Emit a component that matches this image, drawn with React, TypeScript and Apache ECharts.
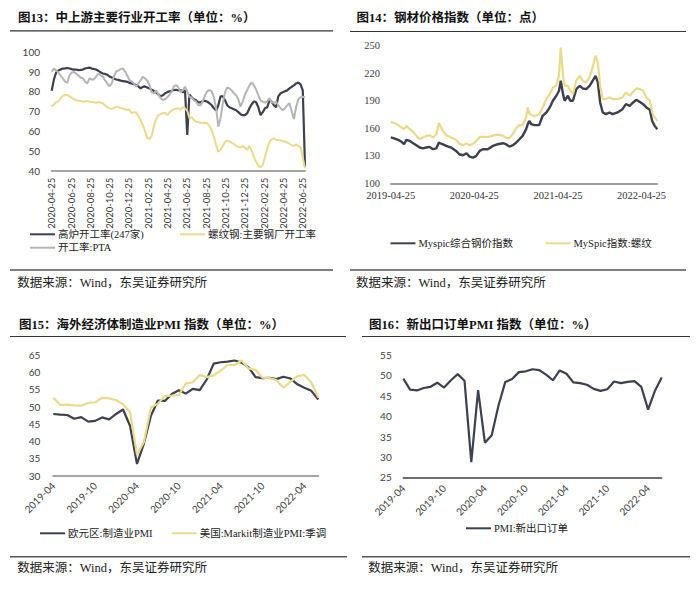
import React, { useEffect, useRef } from 'react';
import * as echarts from 'echarts';

// ---------- 图13 (weekly, from 2020-04-25) ----------
const p13Start = '2020-04-25';
const p13Blast = [
  80.3, 86, 89.5, 90.5, 91, 91.5, 91.6, 91.8, 91.5, 91.2,
  91, 91, 90.7, 90.8, 91, 91.5, 91.8, 92, 91.5, 91.3,
  91, 90.3, 89.6, 89, 88.8, 88.4, 87.5, 87, 86.5, 86,
  85.8, 85.4, 85.2, 85, 84.8, 84.3, 84, 83.6, 83.2, 82.5,
  81.5, 82.3, 82.5, 82, 81.5, 80.8, 80.3, 79.5, 78.5, 77.5,
  78, 79, 79.5, 80, 80.3, 80.7, 80.8, 80.5, 80.7, 79.5,
  80.5, 58, 78.5, 77, 76, 75.5, 74.5, 74.5, 75, 75.3,
  74.8, 74, 73, 71.5, 70.3, 73, 77.5, 77.5, 75.5, 73,
  72, 71.5, 71, 70.5, 69.5, 68.5, 68, 68, 69, 71.5,
  73.5, 75, 74.5, 72, 68, 69.5, 71.5, 72, 75.5, 74.8,
  73, 72, 77.5, 79, 79.5, 80, 80.5, 81.5, 82.3, 83,
  84, 84.4, 83.5, 80.5, 42,
];
const p13Rebar = [
  72.3, 73.5, 74.5, 75, 76.5, 77.8, 78.2, 78.2, 77.5, 76.8,
  76, 75.6, 75.3, 75.1, 74.8, 75, 75.1, 74.8, 74.6, 74.5,
  74.3, 74.6, 74.3, 74, 73, 72, 71.4, 71.2, 71.5, 72.3,
  72, 71.6, 71.4, 70.8, 70.7, 70.9, 69, 69.5, 69.5, 67.5,
  65.5, 63, 60, 56.5, 56, 57.5, 62.5, 66, 68, 68.5,
  69, 69.2, 68, 69.3, 70.3, 71, 71.4, 71.4, 70.8, 72,
  71.5, 70.2, 66.5, 67, 65.5, 64.7, 64.5, 64.2, 64, 64.2,
  63.9, 62.5, 60.5, 57, 53, 49.5, 50.5, 52.5, 54.5, 55.3,
  54.8, 54, 53.5, 52.5, 52, 51.8, 52.4, 51.5, 50.5, 52.5,
  50, 47, 44.5, 42.5, 41.7, 42.8, 47, 51, 54.5, 55.8,
  56.3, 55.5, 55.5, 55.2, 55, 54.7, 54.2, 53.6, 52.9, 52.5,
  53.3, 52.3, 52, 46.5, 41.2,
];
const p13PTA = [
  90, 91.5, 90.5, 89.5, 88, 86.5, 85, 84.2, 88, 89.5,
  89.8, 89, 88, 87, 86.6, 85, 84, 86.5, 86, 86,
  87.4, 89, 88, 87.5, 85.5, 84, 82.5, 84, 87.5, 90,
  90.5, 91.2, 91.6, 90, 88, 85.7, 85, 84, 82.3, 84,
  85.5, 87.4, 86.5, 85.5, 83.2, 79.5, 79, 80.5, 78.5, 76.5,
  75.6, 76, 77, 78.2, 80, 82.5, 83.2, 82, 79.5, 80.5,
  82.3, 80, 77.3, 76.8, 75.5, 74.8, 73, 73, 75, 78,
  80, 80.7, 80, 77, 71.5, 62.2, 66.5, 74, 79.5, 82,
  81.5, 80.5, 79, 78, 76, 72.3, 75, 78.5, 80.7, 83,
  84.5, 83, 81, 78, 75.5, 74.8, 74.3, 75, 76.5, 74.5,
  74.3, 74.8, 73, 71.5, 70.5, 71.5, 73, 74, 70, 66,
  72, 76, 77, 77.3, 77,
];

// ---------- 图14 ----------
const p14Start = '2019-04-25';
const p14Dates = [
  '2019-04-25', '2019-05-12', '2019-05-27', '2019-06-11', '2019-06-22', '2019-07-02', '2019-07-17', '2019-08-01', '2019-08-15', '2019-08-30',
  '2019-09-13', '2019-09-28', '2019-10-12', '2019-10-27', '2019-11-11', '2019-11-22', '2019-12-07', '2019-12-24', '2020-01-15', '2020-02-06',
  '2020-02-20', '2020-03-06', '2020-03-21', '2020-04-04', '2020-04-19', '2020-05-03', '2020-05-18', '2020-06-01', '2020-06-23', '2020-07-15',
  '2020-08-06', '2020-08-28', '2020-09-11', '2020-09-26', '2020-10-11', '2020-10-25', '2020-11-09', '2020-11-23', '2020-12-08', '2020-12-15',
  '2020-12-22', '2020-12-30', '2021-01-13', '2021-02-04', '2021-02-19', '2021-03-05', '2021-03-20', '2021-04-03', '2021-04-18', '2021-04-30',
  '2021-05-07', '2021-05-17', '2021-05-24', '2021-06-08', '2021-06-18', '2021-06-30', '2021-07-14', '2021-07-29', '2021-08-12', '2021-08-27',
  '2021-09-11', '2021-09-25', '2021-10-07', '2021-10-17', '2021-10-27', '2021-11-08', '2021-11-22', '2021-12-07', '2021-12-21', '2022-01-12',
  '2022-02-03', '2022-02-18', '2022-03-04', '2022-03-19', '2022-04-02', '2022-04-17', '2022-05-02', '2022-05-16', '2022-05-31', '2022-06-11',
  '2022-06-22', '2022-07-03',
];
const p14Composite = [
  150, 148.8, 147.3, 145.2, 142.6, 147.3, 146.2, 143.7, 141.5, 139,
  138, 139, 139.7, 137.2, 138, 144.4, 142.6, 140.8, 139, 135.3,
  131.7, 130.6, 132.8, 129.1, 128, 129.9, 135.3, 137.2, 137.2, 140.8,
  142.6, 143.7, 142.6, 140.1, 141.5, 144.4, 148, 151.7, 159, 164.5,
  168, 164.5, 163.4, 163.4, 173.6, 177.2, 182.7, 190, 195.4, 200.9,
  211.8, 197.2, 190, 195.4, 190, 190, 202.7, 206.3, 203.4, 202.7,
  206.3, 211.8, 217.2, 210, 188.1, 177.2, 175.4, 177.2, 175.4, 177.2,
  180.8, 186.3, 184.5, 188.1, 191, 188.8, 186.3, 182.7, 180.1, 168,
  162.6, 159,
];
const p14Rebar = [
  167, 165.5, 163.4, 160.8, 159, 162.6, 159, 156.1, 151.7, 148,
  149.9, 151.7, 152.4, 149.9, 153.5, 165.5, 158, 152.5, 150, 147.5,
  143, 141.5, 143.5, 141.5, 143, 146, 150.5, 150.8, 150.5, 152,
  153, 152, 149.5, 149, 154, 160, 163.5, 163.5, 172, 182.7,
  176, 174.5, 173, 175.4, 182.7, 191.8, 197.2, 204.5, 206.3, 218,
  248, 217.2, 206.3, 206.3, 200.9, 197.2, 211.8, 217.2, 211.8, 210,
  215.4, 226.3, 239.1, 231.8, 206.3, 191.8, 191.8, 193.6, 191.8, 191.8,
  193.6, 199.1, 195.4, 199.8, 203.4, 202.7, 200.9, 193.6, 190, 177.2,
  171.7, 168,
];

// ---------- 图15 / 图16 (monthly 2019-04 .. 2022-06) ----------
const pmiMonths = [
  '2019-04', '2019-05', '2019-06', '2019-07', '2019-08', '2019-09', '2019-10', '2019-11', '2019-12',
  '2020-01', '2020-02', '2020-03', '2020-04', '2020-05', '2020-06', '2020-07', '2020-08', '2020-09', '2020-10', '2020-11', '2020-12',
  '2021-01', '2021-02', '2021-03', '2021-04', '2021-05', '2021-06', '2021-07', '2021-08', '2021-09', '2021-10', '2021-11', '2021-12',
  '2022-01', '2022-02', '2022-03', '2022-04', '2022-05', '2022-06',
];
const euroPMI = [
  47.9, 47.7, 47.6, 46.5, 47.0, 45.7, 45.9, 46.9, 46.3,
  47.9, 49.2, 44.5, 33.4, 39.4, 47.4, 51.8, 51.7, 53.7, 54.8, 53.8, 55.2,
  54.8, 57.9, 62.5, 62.9, 63.1, 63.4, 62.8, 61.4, 58.6, 58.3, 58.4, 58.0,
  58.7, 58.2, 56.5, 55.5, 54.6, 52.1,
];
const usPMI = [
  52.6, 50.5, 50.6, 50.4, 50.3, 51.1, 51.3, 52.6, 52.4,
  51.9, 50.7, 48.5, 36.1, 39.8, 49.8, 50.9, 53.1, 53.2, 53.4, 56.7, 57.1,
  59.2, 58.6, 59.1, 60.5, 62.1, 62.1, 63.4, 61.1, 60.7, 58.4, 58.3, 57.7,
  55.5, 57.3, 58.8, 59.2, 57.0, 52.7,
];
const newExportPMI = [
  49.2, 46.5, 46.3, 46.9, 47.2, 48.2, 47.0, 48.8, 50.3,
  48.7, 28.7, 46.4, 33.5, 35.3, 42.6, 48.4, 49.1, 50.8, 51.0, 51.5, 51.3,
  50.2, 48.8, 51.2, 50.4, 48.3, 48.1, 47.7, 46.7, 46.2, 46.6, 48.5, 48.1,
  48.4, 48.6, 47.2, 41.6, 46.2, 49.5,
];

const titles = [
  '图13：中上游主要行业开工率（单位：%）',
  '图14：钢材价格指数（单位：点）',
  '图15：海外经济体制造业PMI 指数（单位：%）',
  '图16：新出口订单PMI 指数（单位：%）',
];
const sourceText = '数据来源：Wind，东吴证券研究所';

const DARK = '#3c4050';
const YELLOW = '#ecd98a';
const GRAY = '#b5b5b5';
const SANS = 'Lato, "Noto Sans CJK SC", sans-serif';
const SERIF = '"Liberation Serif", "Noto Sans CJK SC", serif';
const MONTH_DAYS = 30.4375;

function monthsSince(start: string, d: string) {
  const [y0, m0, d0] = start.split('-').map(Number);
  const [y, m, dd] = d.split('-').map(Number);
  return (y - y0) * 12 + (m - m0) + (dd - d0) / MONTH_DAYS;
}

export default function App() {
  const ref = useRef<HTMLDivElement>(null);
  useEffect(() => {
    if (!ref.current) return;
    const chart = echarts.init(ref.current, undefined, { renderer: 'svg' });

    const p13Data = (arr: number[]) => arr.map((v, i) => [(i * 7) / MONTH_DAYS, v]);
    const p13Max = ((p13Blast.length - 1) * 7) / MONTH_DAYS;
    const p14X = p14Dates.map((d) => monthsSince(p14Start, d));
    const p14Max = p14X[p14X.length - 1];

    const [sy, sm] = p13Start.split('-').map(Number);
    const fmt13 = (v: number) => {
      if (Math.abs(v - Math.round(v)) > 1e-6 || Math.round(v) % 2 !== 0) return '';
      const d = new Date(Date.UTC(sy, sm - 1 + Math.round(v), 25));
      return `${d.getUTCFullYear()}-${String(d.getUTCMonth() + 1).padStart(2, '0')}-25`;
    };
    const fmt14 = (v: number) => {
      if (Math.abs(v - Math.round(v)) > 1e-6 || Math.round(v) % 12 !== 0) return '';
      return `${2019 + Math.round(v) / 12}-04-25`;
    };

    const noLine = { show: false };
    const baseY = (gridIndex: number, min: number, max: number, interval: number, margin: number, family: string, size: number) => ({
      type: 'value', gridIndex, min, max, interval,
      axisLine: noLine, axisTick: noLine, splitLine: noLine,
      axisLabel: { margin, fontFamily: family, fontSize: size, color: '#404040' },
    });

    const legendBase = {
      padding: 0, itemWidth: 25, itemHeight: 2, icon: 'rect', selectedMode: false,
      textStyle: { fontFamily: SERIF, fontSize: 10.5, lineHeight: 14, color: '#222', padding: [0, 0, 0, -2] },
    };
    const mkLegend = (name: string, left: number, cy: number) => ({ ...legendBase, data: [name], left, top: cy - 7 });

    const lineS = (name: string, xi: number, data: any, color: string, width = 2) => ({
      name, type: 'line', xAxisIndex: xi, yAxisIndex: xi, data,
      showSymbol: false, symbol: 'none', lineStyle: { color, width }, itemStyle: { color },
    });

    const titleEl = (text: string, x: number, y: number) => ({
      type: 'text', x, y,
      style: { text, font: `bold 12.5px ${SERIF}`, fill: '#111', verticalAlign: 'middle', textVerticalAlign: 'middle' },
    });
    const srcEl = (x: number, y: number) => ({
      type: 'text', x, y,
      style: { text: sourceText, font: `12.5px ${SERIF}`, fill: '#222', verticalAlign: 'middle', textVerticalAlign: 'middle' },
    });
    const rule = (x1: number, x2: number, y: number, color: string, w: number) => ({
      type: 'line', shape: { x1, y1: y, x2, y2: y }, style: { stroke: color, lineWidth: w },
    });

    chart.setOption({
      animation: false,
      backgroundColor: '#ffffff',
      grid: [
        { left: 51.7, top: 51.7, width: 253.3, height: 119 },
        { left: 390.8, top: 45.7, width: 266.5, height: 137.6 },
        { left: 53.3, top: 355, width: 265, height: 120.7 },
        { left: 403.3, top: 355, width: 258.4, height: 122.3 },
      ],
      xAxis: [
        {
          type: 'value', gridIndex: 0, min: 0, max: p13Max, interval: 2,
          axisLine: { show: true, lineStyle: { color: '#a6a6a6', width: 2 } },
          axisTick: noLine, splitLine: noLine,
          axisLabel: { rotate: 90, margin: 7, fontFamily: SANS, fontSize: 9.5, color: '#404040', formatter: fmt13, showMaxLabel: false },
        },
        {
          type: 'value', gridIndex: 1, min: 0, max: p14Max, interval: 12,
          axisLine: { show: true, lineStyle: { color: '#808080', width: 1.5 } },
          axisTick: noLine, splitLine: noLine,
          axisLabel: { margin: 7, fontFamily: SERIF, fontSize: 10.5, color: '#333', formatter: fmt14, showMaxLabel: false },
        },
        {
          type: 'category', gridIndex: 2, data: pmiMonths, boundaryGap: false,
          axisLine: { show: true, lineStyle: { color: '#a6a6a6', width: 2 } },
          axisTick: noLine, splitLine: noLine,
          axisLabel: { interval: 5, rotate: 45, margin: 8, fontFamily: SANS, fontSize: 10, color: '#404040' },
        },
        {
          type: 'category', gridIndex: 3, data: pmiMonths, boundaryGap: false,
          axisLine: { show: true, lineStyle: { color: '#404040', width: 1.5 } },
          axisTick: noLine, splitLine: noLine,
          axisLabel: { interval: 5, rotate: 45, margin: 9, fontFamily: SANS, fontSize: 10, color: '#404040' },
        },
      ],
      yAxis: [
        baseY(0, 40, 100, 10, 11.7, SANS, 10),
        baseY(1, 100, 250, 30, 10.8, SERIF, 10.5),
        baseY(2, 30, 65, 5, 13, SANS, 10),
        baseY(3, 25, 55, 5, 11.6, SANS, 10),
      ],
      legend: [
        mkLegend('高炉开工率(247家)', 30, 234.3),
        mkLegend('螺纹钢:主要钢厂开工率', 180, 234.3),
        mkLegend('开工率:PTA', 30, 247.7),
        mkLegend('Myspic综合钢价指数', 390.5, 243.3),
        mkLegend('MySpic指数:螺纹', 545.5, 243.3),
        mkLegend('欧元区:制造业PMI', 40, 533.3),
        mkLegend('美国:Markit制造业PMI:季调', 171.7, 533.3),
        mkLegend('PMI:新出口订单', 466, 528.3),
      ],
      series: [
        lineS('高炉开工率(247家)', 0, p13Data(p13Blast), DARK, 2.2),
        lineS('螺纹钢:主要钢厂开工率', 0, p13Data(p13Rebar), YELLOW, 2),
        lineS('开工率:PTA', 0, p13Data(p13PTA), GRAY, 2),
        lineS('Myspic综合钢价指数', 1, p14X.map((x, i) => [x, p14Composite[i]]), DARK, 2.4),
        lineS('MySpic指数:螺纹', 1, p14X.map((x, i) => [x, p14Rebar[i]]), YELLOW, 2.2),
        lineS('欧元区:制造业PMI', 2, euroPMI, DARK, 2.2),
        lineS('美国:Markit制造业PMI:季调', 2, usPMI, YELLOW, 2.2),
        lineS('PMI:新出口订单', 3, newExportPMI, DARK, 2.2),
      ],
      graphic: [
        titleEl(titles[0], 18, 18.3),
        titleEl(titles[1], 356.5, 18.3),
        titleEl(titles[2], 19, 325),
        titleEl(titles[3], 369, 325),
        rule(10, 333, 30.8, '#333', 1.2),
        rule(350, 686, 31.5, '#333', 1.2),
        rule(10, 346, 336.5, '#333', 1.2),
        rule(362, 690, 336.5, '#333', 1.2),
        rule(10, 333, 270, '#555', 1.5),
        rule(350, 686, 270, '#555', 1.5),
        rule(10, 347, 556.7, '#555', 1.5),
        rule(362, 690, 556.7, '#555', 1.5),
        srcEl(17.3, 283.3),
        srcEl(356, 283.3),
        srcEl(17.3, 568.3),
        srcEl(368.3, 568.3),
      ],
    });
    return () => chart.dispose();
  }, []);

  return (
    <div
      ref={ref}
      style={{ position: 'absolute', left: 0, top: 0, width: 700, height: 590, background: '#fff' }}
    />
  );
}
